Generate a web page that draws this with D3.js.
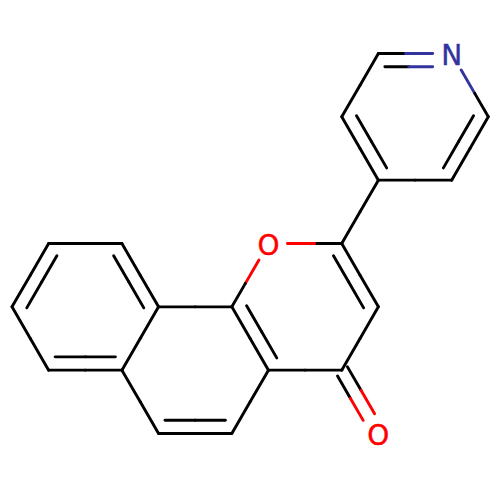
<!DOCTYPE html>
<html lang="en">
	<head>
		<meta charset="utf-8">
		<title>D3: Molecule</title>
		<script type="text/javascript" src="https://cdnjs.cloudflare.com/ajax/libs/d3/7.8.5/d3.min.js"></script>
		<style type="text/css">
			html, body { margin: 0; padding: 0; background: #fff; }
			svg { display: block; }
		</style>
	</head>
	<body>
		<script type="text/javascript">

			//Atoms, on a hex lattice (half bond columns, rows)
			var atomCol = [12, 13, 12, 10, 9, 10, 9, 10, 9, 10, 7, 6, 7, 6, 4, 3, 4, 3, 1, 0, 1];
			var atomRow = [0, 1, 2, 2, 1, 0, 3, 4, 5, 6, 5, 4, 3, 6, 6, 5, 4, 3, 3, 4, 5];
			var atomLabel = ['N', '', '', '', '', '', '', '', '', 'O', '', '', 'O', '', '', '', '', '', '', '', ''];

			//Bonds. bondRing says which ring the inner line of a double bond sits in
			var bondFrom = [5, 0, 1, 2, 3, 4, 3, 6, 6, 12, 7, 8, 8, 10, 10, 13, 14, 15, 15, 16, 16, 17, 18, 19];
			var bondTo = [0, 1, 2, 3, 4, 5, 6, 7, 12, 11, 8, 9, 10, 11, 13, 14, 15, 20, 16, 11, 17, 18, 19, 20];
			var bondOrder = [2, 1, 2, 1, 2, 1, 1, 2, 1, 1, 1, 2, 1, 2, 1, 2, 1, 2, 1, 1, 2, 1, 2, 1];
			var bondRing = [0, -1, 0, -1, 0, -1, -1, 1, -1, -1, -1, -1, -1, 1, -1, 2, -1, 3, -1, -1, 3, -1, 3, -1];

			var rings = [
				[0, 1, 2, 3, 4, 5],
				[6, 7, 8, 10, 11, 12],
				[10, 11, 16, 15, 14, 13],
				[15, 16, 17, 18, 19, 20]
			];

			var elementColor = { N: '#33339f', O: '#ff0000' };

			//Width and height
			var w = 500;
			var h = 500;
			var labelGap = 19;
			var innerOffset = 13.3;
			var innerTrim = 6.5;
			var carbonylOffset = 6.6;

			var xScale = d3.scaleLinear().domain([0, 13]).range([12, 488.3]);
			var yScale = d3.scaleLinear().domain([0, 6]).range([53.5, 433.5]);

			var px = i => xScale(atomCol[i]);
			var py = i => yScale(atomRow[i]);

			var svg = d3.select('body')
							.append('svg')
							.attr('width', w)
							.attr('height', h);

			var segments = [];

			//one stroke between two atoms, cut in half so each end takes its atom's colour
			function addLine(a, b, x1, y1, x2, y2) {
				var mx = (x1 + x2) / 2;
				var my = (y1 + y2) / 2;
				var colorA = elementColor[atomLabel[a]] || '#000';
				var colorB = elementColor[atomLabel[b]] || '#000';
				segments.push({ x1: x1, y1: y1, x2: mx, y2: my, color: colorA });
				segments.push({ x1: mx, y1: my, x2: x2, y2: y2, color: colorB });
			}

			bondFrom.forEach(function(a, i) {
				var b = bondTo[i];
				var ax = px(a), ay = py(a), bx = px(b), by = py(b);
				var len = Math.hypot(bx - ax, by - ay);
				var ux = (bx - ax) / len, uy = (by - ay) / len;
				var nx = -uy, ny = ux;
				var startCut = atomLabel[a] ? labelGap : 0;
				var endCut = atomLabel[b] ? labelGap : 0;

				if (bondOrder[i] === 2 && bondRing[i] < 0) {
					//carbonyl, two strokes either side of the axis
					[[-1, 0], [1, 3]].forEach(function(o) {
						var ox = nx * carbonylOffset * o[0], oy = ny * carbonylOffset * o[0];
						addLine(a, b,
							ax + ox + ux * o[1], ay + oy + uy * o[1],
							bx + ox - ux * endCut, by + oy - uy * endCut);
					});
					return;
				}

				addLine(a, b,
					ax + ux * startCut, ay + uy * startCut,
					bx - ux * endCut, by - uy * endCut);

				if (bondOrder[i] === 2) {
					var ring = rings[bondRing[i]];
					var cx = d3.mean(ring, px), cy = d3.mean(ring, py);
					var side = ((cx - ax) * nx + (cy - ay) * ny) > 0 ? 1 : -1;
					var ox = nx * innerOffset * side, oy = ny * innerOffset * side;
					var s = Math.max(startCut, innerTrim), e = Math.max(endCut, innerTrim);
					addLine(a, b,
						ax + ox + ux * s, ay + oy + uy * s,
						bx + ox - ux * e, by + oy - uy * e);
				}
			});

			svg.append('g')
					.attr('fill', 'none')
					.attr('stroke-width', 2.9)
					.attr('stroke-linecap', 'round')
				.selectAll('line')
					.data(segments)
					.enter()
					.append('line')
					.attr('x1', d => d.x1)
					.attr('y1', d => d.y1)
					.attr('x2', d => d.x2)
					.attr('y2', d => d.y2)
					.attr('stroke', d => d.color);

			svg.append('g')
					.attr('text-anchor', 'middle')
					.attr('font-family', 'DejaVu Sans, sans-serif')
					.attr('font-size', 28)
				.selectAll('text')
					.data(d3.range(atomLabel.length).filter(i => atomLabel[i]))
					.enter()
					.append('text')
					.text(i => atomLabel[i])
					.attr('x', px)
					.attr('y', i => py(i) + 11.2)
					.attr('fill', i => elementColor[atomLabel[i]])
					.attr('stroke', i => elementColor[atomLabel[i]])
					.attr('stroke-width', 0.4);
		</script>
	</body>
</html>
